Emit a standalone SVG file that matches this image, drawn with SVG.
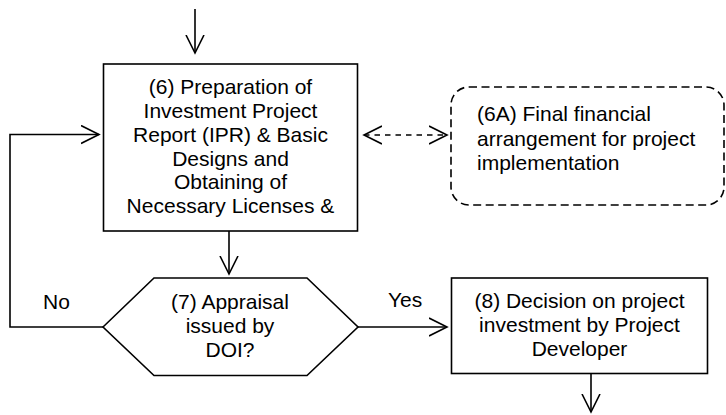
<svg xmlns="http://www.w3.org/2000/svg" width="726" height="415" viewBox="0 0 726 415">
  <style>
    .shape { fill: #fff; stroke: #000; stroke-width: 1.6; }
    .dashed { fill: #fff; stroke: #000; stroke-width: 1.6; stroke-dasharray: 8 4.5; }
    .wire { fill: none; stroke: #000; stroke-width: 1.6; }
    .wire-dash { fill: none; stroke: #000; stroke-width: 1.6; stroke-dasharray: 5.5 5; }
    text { font-family: "Liberation Sans", Arial, sans-serif; font-size: 21px; fill: #000; }
    .c { text-anchor: middle; }
  </style>
  <defs>
    <marker id="vhead" viewBox="0 0 20 20" refX="18" refY="10" markerWidth="20" markerHeight="20" orient="auto-start-reverse" markerUnits="userSpaceOnUse">
      <path d="M0,1 L18,10 L0,19" fill="none" stroke="#000" stroke-width="1.6" stroke-dasharray="none"/>
    </marker>
  </defs>

  <g id="connectors">
    <path class="wire" d="M195,9 V53" marker-end="url(#vhead)"/>
    <path class="wire" d="M229,231 V274" marker-end="url(#vhead)"/>
    <path class="wire" d="M103,327 H10 V134.5 H99" marker-end="url(#vhead)"/>
    <path class="wire-dash" d="M364,135 H447" marker-start="url(#vhead)" marker-end="url(#vhead)"/>
    <path class="wire" d="M358,327 H447" marker-end="url(#vhead)"/>
    <path class="wire" d="M591,373 V412" marker-end="url(#vhead)"/>
    <text x="43" y="309">No</text>
    <text x="388" y="307">Yes</text>
  </g>

  <g id="node-6">
    <rect class="shape" x="103.5" y="64" width="254" height="167"/>
    <text class="c" x="230.5" y="94">(6) Preparation of</text>
    <text class="c" x="230.5" y="118">Investment Project</text>
    <text class="c" x="230.5" y="141.5">Report (IPR) &amp; Basic</text>
    <text class="c" x="230.5" y="165.5">Designs and</text>
    <text class="c" x="230.5" y="189">Obtaining of</text>
    <text class="c" x="230.5" y="213">Necessary Licenses &amp;</text>
  </g>

  <g id="node-6A">
    <rect class="dashed" x="451" y="87" width="273" height="118" rx="18" ry="18"/>
    <text x="477" y="121">(6A) Final financial</text>
    <text x="477" y="145.5">arrangement for project</text>
    <text x="477" y="169.5">implementation</text>
  </g>

  <g id="node-7">
    <polygon class="shape" points="103,327 154,278 307,278 358,327 307,375.5 154,375.5"/>
    <text class="c" x="230" y="308.5">(7) Appraisal</text>
    <text class="c" x="230" y="332.5">issued by</text>
    <text class="c" x="230" y="356.5">DOI?</text>
  </g>

  <g id="node-8">
    <rect class="shape" x="451.5" y="278" width="256" height="95.5"/>
    <text class="c" x="579.5" y="307.5">(8) Decision on project</text>
    <text class="c" x="579.5" y="331.5">investment by Project</text>
    <text class="c" x="579.5" y="355.5">Developer</text>
  </g>
</svg>
